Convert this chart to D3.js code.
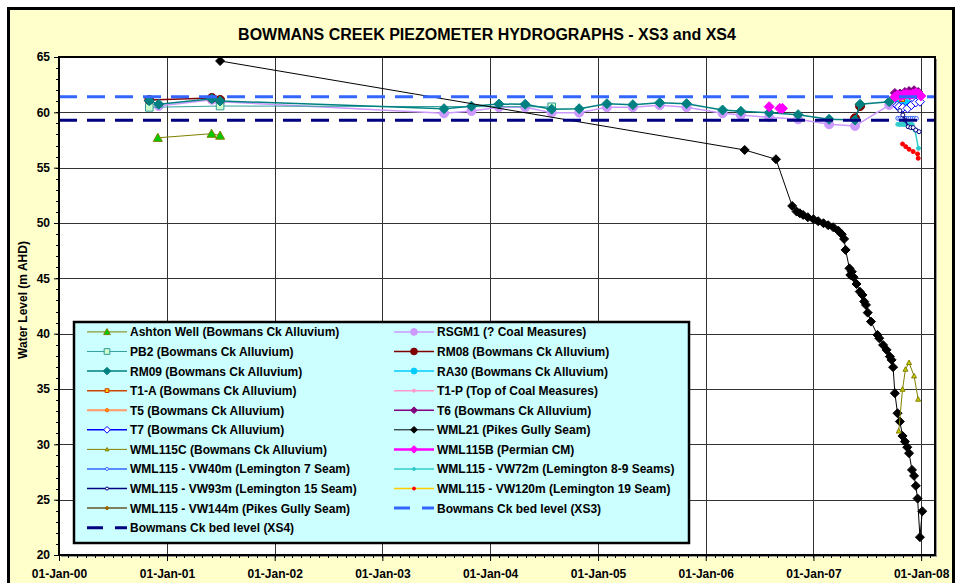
<!DOCTYPE html>
<html>
<head>
<meta charset="utf-8">
<script src="https://cdn.jsdelivr.net/npm/d3@7"></script>
<style>
  body { margin: 0; background: #fff; }
  svg text { font-family: Arial, "Liberation Sans", sans-serif; font-weight: bold; fill: #000; }
</style>
</head>
<body>
<div id="chart"></div>
<script>
// Axis ticks
const yTicks = [20, 25, 30, 35, 40, 45, 50, 55, 60, 65];
const xTickDates = ["2000-01-01", "2001-01-01", "2002-01-01", "2003-01-01", "2004-01-01",
  "2005-01-01", "2006-01-01", "2007-01-01", "2008-01-01"];

// Series data: [date, water level (m AHD)], null = gap in the line
const ashtonWell = [["2000-12-01", 57.7], ["2001-06-01", 58.07], ["2001-06-30", 57.9]];
const rsgm1 = [["2000-12-04", 60.57], ["2001-06-02", 61.14], ["2001-06-30", 60.96], ["2003-07-29", 59.91],
  ["2003-10-30", 60.12], ["2004-01-31", 60.46], ["2004-04-29", 60.46], ["2004-07-28", 59.97],
  ["2004-10-29", 59.97], ["2005-01-31", 60.46], ["2005-04-29", 60.46], ["2005-07-29", 60.64],
  ["2005-10-28", 60.46], ["2006-02-27", 59.91], ["2006-04-30", 59.76], ["2006-08-04", 59.55],
  ["2006-11-10", 59.37], ["2007-02-23", 58.92], ["2007-05-22", 58.77], ["2007-09-15", 60.66]];
const pb2 = [["2000-11-02", 60.45], ["2001-06-30", 60.57], ["2004-07-28", 60.5]];
const rm08 = [["2000-11-02", 61.12], ["2001-06-02", 61.3], ["2001-06-30", 61.12], [null, null],
  ["2007-05-22", 59.46], ["2007-06-08", 60.57]];
const rm09 = [["2000-11-02", 61.05], ["2000-12-04", 60.73], ["2001-06-02", 61.23], ["2001-06-30", 61.03],
  ["2003-07-29", 60.33], ["2003-10-30", 60.55], ["2004-01-31", 60.75], ["2004-04-29", 60.73],
  ["2004-07-28", 60.28], ["2004-10-29", 60.33], ["2005-01-31", 60.78], ["2005-04-29", 60.69],
  ["2005-07-29", 60.87], ["2005-10-28", 60.78], ["2006-02-27", 60.21], ["2006-04-30", 60.09],
  ["2006-08-04", 59.97], ["2006-11-10", 59.79], ["2007-02-23", 59.37], ["2007-05-22", 59.31],
  ["2007-06-08", 60.73], ["2007-09-15", 60.96], ["2007-10-21", 61.12]];
const ra30 = [["2007-10-17", 61.0], ["2007-10-31", 60.7], ["2007-11-14", 60.8]];
const t1a = [["2007-10-14", 61.4], ["2007-10-28", 61.2]];
const t1p = [["2007-10-14", 61.3], ["2007-11-04", 61.4]];
const t5 = [["2007-10-21", 61.3], ["2007-11-07", 61.4]];
const t6 = [["2007-10-04", 61.75], ["2007-10-21", 61.7], ["2007-11-07", 61.84], ["2007-11-21", 61.93],
  ["2007-12-08", 62.0], ["2007-12-22", 61.84]];
const t7 = [["2007-10-12", 60.6], ["2007-10-18", 60.5], ["2007-10-31", 60.42], ["2007-11-16", 60.36],
  ["2007-11-29", 60.66], ["2007-12-14", 60.9], ["2007-12-28", 60.96]];
const wml21 = [["2001-06-30", 64.64], ["2006-05-13", 56.6], ["2006-08-27", 55.76],
  ["2006-10-21", 51.54], ["2006-11-05", 51.03], ["2006-11-16", 50.88], ["2006-11-27", 50.73],
  ["2006-12-13", 50.52], ["2007-01-01", 50.34], ["2007-01-17", 50.16], ["2007-02-04", 49.98],
  ["2007-02-20", 49.8], ["2007-03-09", 49.62], ["2007-03-26", 49.31], ["2007-04-07", 48.98],
  ["2007-04-15", 48.56], ["2007-04-20", 47.57], ["2007-05-03", 45.9], ["2007-05-06", 45.3],
  ["2007-05-11", 45.6], ["2007-05-17", 45.1], ["2007-05-27", 44.49], ["2007-06-07", 43.8],
  ["2007-06-16", 43.5], ["2007-06-22", 42.9], ["2007-06-28", 42.6], ["2007-07-04", 41.9],
  ["2007-07-15", 41.09], ["2007-08-06", 39.89], ["2007-08-12", 39.59], ["2007-08-25", 38.98],
  ["2007-09-06", 38.53], ["2007-09-17", 37.93], ["2007-09-23", 37.63], ["2007-09-28", 36.97],
  ["2007-10-04", 34.62], ["2007-10-13", 32.81], ["2007-10-21", 32.06], ["2007-10-30", 30.76],
  ["2007-11-07", 30.25], ["2007-11-15", 29.74], ["2007-11-21", 29.2], ["2007-12-01", 27.69],
  ["2007-12-08", 27.15], ["2007-12-14", 26.25], ["2007-12-20", 25.1], ["2007-12-28", 21.61],
  ["2008-01-05", 23.95]];
const wml115c = [["2007-10-17", 31.2], ["2007-10-30", 34.98], ["2007-11-09", 36.79],
  ["2007-11-21", 37.39], ["2007-12-08", 36.18], ["2007-12-22", 34.08]];
const wml115b = [["2006-08-04", 60.51], [null, null], ["2006-09-09", 60.36], ["2006-09-18", 60.36], [null, null],
  ["2007-10-04", 61.39], ["2007-10-14", 61.57], ["2007-10-24", 61.48], ["2007-11-03", 61.6],
  ["2007-11-13", 61.66], ["2007-11-24", 61.57], ["2007-12-04", 61.66], ["2007-12-14", 61.75],
  ["2007-12-24", 61.66], ["2007-12-31", 61.48]];
const vw40 = [["2007-10-14", 59.46], ["2007-10-21", 59.44], ["2007-10-28", 59.46], ["2007-11-04", 59.45],
  ["2007-11-11", 59.46], ["2007-11-18", 59.44], ["2007-11-25", 59.46], ["2007-12-02", 59.45],
  ["2007-12-09", 59.46], ["2007-12-16", 59.44]];
const vw72 = [["2007-10-14", 58.92], ["2007-10-21", 58.9], ["2007-10-28", 58.92], ["2007-11-04", 58.9],
  ["2007-11-11", 58.92], ["2007-11-18", 58.9], ["2007-11-25", 58.92], ["2007-12-02", 58.9],
  ["2007-12-11", 58.4], ["2007-12-23", 56.75]];
const vw93 = [["2007-10-21", 60.15], ["2007-10-31", 59.76], ["2007-11-08", 59.3], ["2007-11-18", 58.7],
  ["2007-11-27", 58.62], ["2007-12-05", 58.62], ["2007-12-14", 58.4], ["2007-12-25", 58.25]];
const vw120 = [["2007-10-30", 57.14], ["2007-11-10", 56.9], ["2007-11-21", 56.66], ["2007-12-05", 56.45],
  ["2007-12-20", 56.24], ["2007-12-22", 55.85]];
const vw144 = [];
const bedXS3 = [["2000-01-01", 61.4], ["2008-02-17", 61.4]];
const bedXS4 = [["2000-01-01", 59.28], ["2008-02-17", 59.28]];

const seriesNames = [
  "Ashton Well (Bowmans Ck Alluvium)", "RSGM1 (? Coal Measures)",
  "PB2 (Bowmans Ck Alluvium)", "RM08 (Bowmans Ck Alluvium)",
  "RM09 (Bowmans Ck Alluvium)", "RA30 (Bowmans Ck Alluvium)",
  "T1-A (Bowmans Ck Alluvium)", "T1-P (Top of Coal Measures)",
  "T5 (Bowmans Ck Alluvium)", "T6 (Bowmans Ck Alluvium)",
  "T7 (Bowmans Ck Alluvium)", "WML21 (Pikes Gully Seam)",
  "WML115C (Bowmans Ck Alluvium)", "WML115B (Permian CM)",
  "WML115 - VW40m (Lemington 7 Seam)", "WML115 - VW72m (Lemington 8-9 Seams)",
  "WML115 - VW93m (Lemington 15 Seam)", "WML115 - VW120m (Lemington 19 Seam)",
  "WML115 - VW144m (Pikes Gully Seam)", "Bowmans Ck bed level (XS3)",
  "Bowmans Ck bed level (XS4)"
];
const seriesData = [ashtonWell, rsgm1, pb2, rm08, rm09, ra30, t1a, t1p, t5, t6, t7, wml21,
  wml115c, wml115b, vw40, vw72, vw93, vw120, vw144, bedXS3, bedXS4];

// Styles: line colour, width, dash, marker shape / size / fill / stroke
const seriesStyles = [
  { line: "#808000", w: 1, shape: "triangle", r: 4.5, fill: "#00CC00", stroke: "#808000" },
  { line: "#CC99FF", w: 1.5, shape: "circle", r: 4.5, fill: "#CC99FF", stroke: "#CC99FF" },
  { line: "#33A0A0", w: 1, shape: "square", r: 3.8, fill: "#CCFFCC", stroke: "#339999" },
  { line: "#800000", w: 1.5, shape: "circle", r: 4.5, fill: "#800000", stroke: "#800000" },
  { line: "#008080", w: 1.5, shape: "diamond", r: 5, fill: "#008080", stroke: "#008080" },
  { line: "#00CCFF", w: 1.5, shape: "circle", r: 4, fill: "#00CCFF", stroke: "#00CCFF" },
  { line: "#CC4400", w: 1.5, shape: "square", r: 2.5, fill: "#FFCC00", stroke: "#CC3300" },
  { line: "#FF99CC", w: 1.5, shape: "circle", r: 1.5, fill: "#FF99CC", stroke: "#FF99CC" },
  { line: "#FF9966", w: 2, shape: "circle", r: 2.2, fill: "#FF9900", stroke: "#FF6600" },
  { line: "#800080", w: 1.5, shape: "diamond", r: 4.5, fill: "#800080", stroke: "#800080" },
  { line: "#0000FF", w: 1.5, shape: "diamond", r: 4.5, fill: "#FFFFFF", stroke: "#0000FF" },
  { line: "#000000", w: 1, shape: "diamond", r: 4.5, fill: "#000000", stroke: "#000000" },
  { line: "#808000", w: 1, shape: "triangle", r: 2.5, fill: "#CCCC00", stroke: "#808000" },
  { line: "#FF00FF", w: 2.5, shape: "diamond", r: 5, fill: "#FF00FF", stroke: "#FF00FF" },
  { line: "#3366FF", w: 1.5, shape: "circle", r: 2, fill: "#FFFFFF", stroke: "#3366FF" },
  { line: "#33CCCC", w: 1.5, shape: "circle", r: 2, fill: "#33CCCC", stroke: "#33CCCC" },
  { line: "#000080", w: 1.5, shape: "circle", r: 2, fill: "#FFFFFF", stroke: "#000080" },
  { line: "#FFCC00", w: 1.5, shape: "circle", r: 2, fill: "#FF0000", stroke: "#FF0000" },
  { line: "#808060", w: 2, shape: "circle", r: 1.5, fill: "#996600", stroke: "#996600" },
  { line: "#3366FF", w: 3, dash: "18,10", shape: null },
  { line: "#000080", w: 3, dash: "18,10", shape: null }
];

const W = 956, H = 583;
const plot = { left: 59, top: 57, right: 935, bottom: 555 };
const parse = d3.utcParse("%Y-%m-%d");

const svg = d3.select("#chart").append("svg")
  .attr("width", W)
  .attr("height", H);

// chart area
svg.append("rect")
  .attr("x", 8.5).attr("y", 8.5)
  .attr("width", 945).attr("height", 600)
  .attr("fill", "#FFFFCC")
  .attr("stroke", "#000").attr("stroke-width", 3);

svg.append("text")
  .attr("x", 487).attr("y", 40)
  .attr("text-anchor", "middle")
  .style("font-size", "16px")
  .text("BOWMANS CREEK PIEZOMETER HYDROGRAPHS - XS3 and XS4");

const x = d3.scaleUtc()
  .domain([parse("2000-01-01"), parse("2008-02-17")])
  .range([plot.left, plot.right]);
const y = d3.scaleLinear()
  .domain([20, 65])
  .range([plot.bottom, plot.top]);

// plot area + shadow
svg.append("rect")
  .attr("x", plot.left + 2).attr("y", plot.top + 2)
  .attr("width", plot.right - plot.left).attr("height", plot.bottom - plot.top)
  .attr("fill", "#999");
svg.append("rect")
  .attr("x", plot.left).attr("y", plot.top)
  .attr("width", plot.right - plot.left).attr("height", plot.bottom - plot.top)
  .attr("fill", "#fff");

// gridlines
svg.append("g").selectAll("line")
  .data(yTicks)
  .join("line")
  .attr("x1", plot.left).attr("x2", plot.right)
  .attr("y1", d => Math.round(y(d)) + 0.5).attr("y2", d => Math.round(y(d)) + 0.5)
  .attr("stroke", "#333").attr("stroke-width", 1);
svg.append("g").selectAll("line")
  .data(xTickDates)
  .join("line")
  .attr("x1", d => Math.round(x(parse(d))) + 0.5).attr("x2", d => Math.round(x(parse(d))) + 0.5)
  .attr("y1", plot.top).attr("y2", plot.bottom)
  .attr("stroke", "#333").attr("stroke-width", 1);

// axes
const yAxis = d3.axisLeft(y).tickValues(yTicks).tickSize(5).tickPadding(4);
const gy = svg.append("g")
  .attr("transform", `translate(${plot.left},0)`)
  .call(yAxis);
gy.select(".domain").remove();
gy.selectAll("text").style("font-size", "12px");
svg.append("g").selectAll("line")
  .data(d3.range(20, 65.1, 1))
  .join("line")
  .attr("x1", plot.left - 3).attr("x2", plot.left)
  .attr("y1", d => Math.round(y(d)) + 0.5).attr("y2", d => Math.round(y(d)) + 0.5)
  .attr("stroke", "#000");

const xAxis = d3.axisBottom(x)
  .tickValues(xTickDates.map(parse))
  .tickFormat(d3.utcFormat("%d-%b-%y"))
  .tickSize(6).tickPadding(8);
const gx = svg.append("g")
  .attr("transform", `translate(0,${plot.bottom})`)
  .call(xAxis);
gx.select(".domain").remove();
gx.selectAll("text").style("font-size", "12px");
svg.append("g").selectAll("line")
  .data(d3.utcMonth.range(parse("2000-01-01"), parse("2008-02-17")))
  .join("line")
  .attr("x1", d => Math.round(x(d)) + 0.5).attr("x2", d => Math.round(x(d)) + 0.5)
  .attr("y1", plot.bottom).attr("y2", plot.bottom + 3)
  .attr("stroke", "#000");

svg.append("text")
  .attr("transform", "translate(27,300) rotate(-90)")
  .attr("text-anchor", "middle")
  .style("font-size", "12px")
  .text("Water Level (m AHD)");

// markers
function markerPath(shape, r) {
  if (shape === "diamond") return `M0,${-r}L${r},0L0,${r}L${-r},0Z`;
  if (shape === "square") return `M${-r},${-r}H${r}V${r}H${-r}Z`;
  if (shape === "triangle") return `M0,${-r}L${r},${r * 0.8}H${-r}Z`;
  return d3.arc()({ innerRadius: 0, outerRadius: r, startAngle: 0, endAngle: 2 * Math.PI });
}

svg.append("clipPath").attr("id", "plotclip")
  .append("rect")
  .attr("x", plot.left).attr("y", plot.top)
  .attr("width", plot.right - plot.left).attr("height", plot.bottom - plot.top);

const dataG = svg.append("g").attr("clip-path", "url(#plotclip)");
const line = d3.line()
  .defined(d => d[1] != null)
  .x(d => x(parse(d[0])))
  .y(d => y(d[1]));

seriesData.forEach((data, i) => {
  const s = seriesStyles[i];
  if (!data.length) return;
  dataG.append("path")
    .datum(data)
    .attr("d", line)
    .attr("fill", "none")
    .attr("stroke", s.line)
    .attr("stroke-width", s.w)
    .attr("stroke-dasharray", s.dash || null);
  if (s.shape) {
    dataG.append("g").selectAll("path")
      .data(data.filter(d => d[1] != null))
      .join("path")
      .attr("transform", d => `translate(${x(parse(d[0]))},${y(d[1])})`)
      .attr("d", markerPath(s.shape, s.r))
      .attr("fill", s.fill)
      .attr("stroke", s.stroke)
      .attr("stroke-width", 1);
  }
});

// plot border
svg.append("rect")
  .attr("x", plot.left).attr("y", plot.top)
  .attr("width", plot.right - plot.left).attr("height", plot.bottom - plot.top)
  .attr("fill", "none")
  .attr("stroke", "#000").attr("stroke-width", 2);

// legend
const legend = svg.append("g");
legend.append("rect")
  .attr("x", 74).attr("y", 322)
  .attr("width", 615).attr("height", 221)
  .attr("fill", "#CCFFFF")
  .attr("stroke", "#000").attr("stroke-width", 2.5);

seriesNames.forEach((name, i) => {
  const s = seriesStyles[i];
  const col = i % 2, row = Math.floor(i / 2);
  const x0 = col === 0 ? 87 : 394;
  const cy = 331.9 + row * 19.58;
  const item = legend.append("g");
  item.append("line")
    .attr("x1", x0).attr("x2", x0 + 40)
    .attr("y1", cy).attr("y2", cy)
    .attr("stroke", s.line)
    .attr("stroke-width", s.w)
    .attr("stroke-dasharray", s.dash ? "16,12" : null);
  if (s.shape) {
    item.append("path")
      .attr("transform", `translate(${x0 + 20},${cy})`)
      .attr("d", markerPath(s.shape, Math.max(1.5, s.r * 0.75)))
      .attr("fill", s.fill)
      .attr("stroke", s.stroke)
      .attr("stroke-width", 1);
  }
  item.append("text")
    .attr("x", x0 + 43).attr("y", cy + 4.5)
    .style("font-size", "12px")
    .text(name);
});
</script>
</body>
</html>
